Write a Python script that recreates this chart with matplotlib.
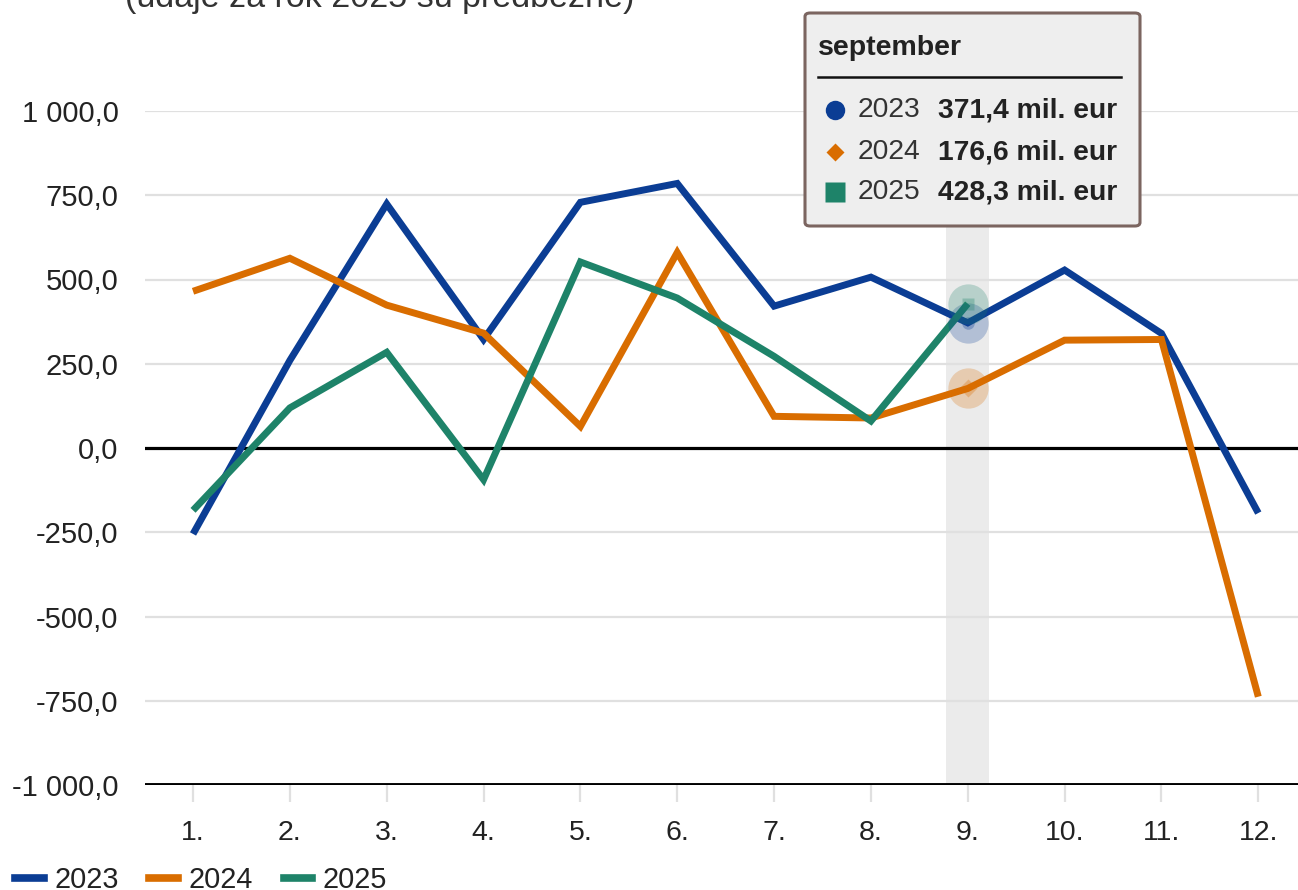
import numpy as np
import matplotlib
matplotlib.use("Agg")
import matplotlib.pyplot as plt
from matplotlib.patches import FancyBboxPatch
from matplotlib.lines import Line2D

plt.rcParams['font.family'] = ['Liberation Sans', 'DejaVu Sans']

# data (mil. eur)
months = list(range(1, 13))
month_labels = [f"{m}." for m in months]
vals_2023 = [-255, 260, 724, 322, 729, 785, 421, 507, 371.4, 528, 340, -193]
vals_2024 = [465, 563, 424, 341, 64, 580, 94, 89, 176.6, 320, 322, -738]
vals_2025 = [-185, 119, 284, -94, 552, 445, 272, 80, 428.3]
series_names = ["2023", "2024", "2025"]
colors = ["#0b3d94", "#d96d00", "#1e8369"]
yticks = [1000, 750, 500, 250, 0, -250, -500, -750, -1000]
ytick_labels = ["1 000,0", "750,0", "500,0", "250,0", "0,0", "-250,0", "-500,0", "-750,0", "-1 000,0"]
hover_month = 9
hover_title = "september"
hover_vals = ["371,4 mil. eur", "176,6 mil. eur", "428,3 mil. eur"]
subtitle = "(údaje za rok 2025 sú predbežné)"

W, H = 1298, 890
fig = plt.figure(figsize=(W / 100, H / 100), dpi=100)
ax = fig.add_axes([145 / W, 105 / H, 1 - 145 / W, 674 / H])

# hover band
ax.axvspan(hover_month - 0.222, hover_month + 0.222, color="#ebebeb", zorder=0, lw=0)

# gridlines
for yv in yticks:
    if yv == 0:
        ax.axhline(yv, color="black", lw=2.3, zorder=2)
    elif yv == -1000:
        ax.axhline(yv, color="black", lw=2.8, zorder=2)
    else:
        ax.axhline(yv, color="#e0e0e0", lw=1.6, zorder=1)

all_vals = [vals_2023, vals_2024, vals_2025]
for vals, c, name in zip(all_vals, colors, series_names):
    ax.plot(months[:len(vals)], vals, color=c, lw=5, solid_joinstyle="miter",
            solid_capstyle="butt", zorder=3, label=name)

# hover markers at september
hmarkers = ["o", "D", "s"]
for vals, c, mk in zip(all_vals, colors, hmarkers):
    ax.plot(hover_month, vals[hover_month - 1], "o", ms=29, color=c, alpha=0.25,
            mec="none", zorder=4)
    ax.plot(hover_month, vals[hover_month - 1], mk, ms=9, color=c, alpha=0.3,
            mec="none", zorder=4)

ax.set_xlim(0.504, 12.41)
ax.set_ylim(-1000, 1000)
ax.set_xticks(months)
ax.set_xticklabels(month_labels, fontsize=20.5, color="#222222")
ax.set_yticks(yticks)
ax.set_yticklabels(ytick_labels, fontsize=21, color="#222222")
ax.tick_params(axis="y", length=0, pad=19)
ax.tick_params(axis="x", length=12, width=1.6, color="#e0e0e0", pad=13)
for s in ax.spines.values():
    s.set_visible(False)

# tooltip box
box = FancyBboxPatch((805 / W, 1 - 226 / H), 335 / W, 213 / H,
                     boxstyle="round,pad=0,rounding_size=0.004",
                     transform=fig.transFigure, facecolor="#eeeeee",
                     edgecolor="#7b6560", lw=2.2, zorder=10)
fig.add_artist(box)
fig.text(818 / W, 1 - 55 / H, hover_title, fontsize=20.5, fontweight="bold",
         color="#222222", va="baseline", zorder=11)
fig.add_artist(Line2D([818 / W, 1121 / W], [1 - 77 / H, 1 - 77 / H],
                      transform=fig.transFigure, color="#111111", lw=1.8, zorder=11))
msizes = [14, 9, 14]
row_y = [110, 152, 192]
for i in range(3):
    yy = 1 - row_y[i] / H
    fig.add_artist(Line2D([835 / W], [yy], marker=hmarkers[i], ms=msizes[i],
                          color=colors[i], mec="none", transform=fig.transFigure, zorder=11))
    fig.text(858 / W, yy, series_names[i], fontsize=20.3, color="#333333",
             va="center", zorder=11)
    fig.text(938 / W, yy, hover_vals[i], fontsize=20.3, fontweight="bold",
             color="#222222", va="center", zorder=11)

# cut-off subtitle at the top
fig.text(125 / W, 1 - 7 / H, subtitle, fontsize=24.5, color="#333333", va="baseline")

# legend at the bottom
handles = [Line2D([0], [0], color=c, lw=5.5) for c in colors]
fig.legend(handles, series_names, loc="center left", bbox_to_anchor=(15 / W, 10 / H),
           frameon=False, fontsize=20.8, handlelength=1.0, handletextpad=0.35,
           columnspacing=1.07, ncol=3, borderpad=0, borderaxespad=0,
           labelcolor="#222222")

fig.savefig("out.png", dpi=100)
